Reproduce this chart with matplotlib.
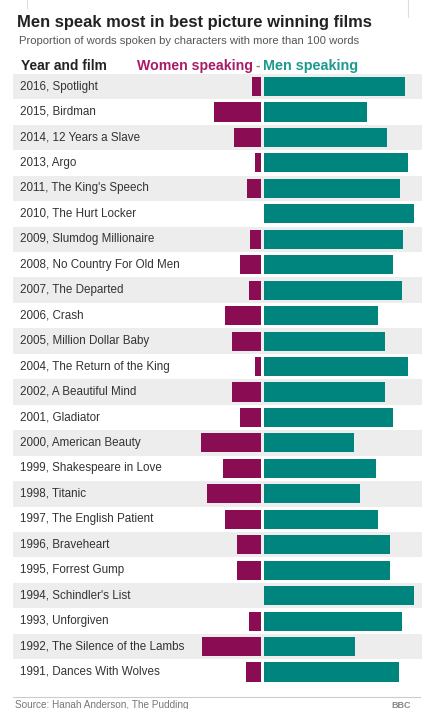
import matplotlib.pyplot as plt
from matplotlib.lines import Line2D

# DATA
films = ["2016, Spotlight", "2015, Birdman", "2014, 12 Years a Slave", "2013, Argo",
         "2011, The King's Speech", "2010, The Hurt Locker", "2009, Slumdog Millionaire",
         "2008, No Country For Old Men", "2007, The Departed", "2006, Crash",
         "2005, Million Dollar Baby", "2004, The Return of the King", "2002, A Beautiful Mind",
         "2001, Gladiator", "2000, American Beauty", "1999, Shakespeare in Love",
         "1998, Titanic", "1997, The English Patient", "1996, Braveheart",
         "1995, Forrest Gump", "1994, Schindler's List", "1993, Unforgiven",
         "1992, The Silence of the Lambs", "1991, Dances With Wolves"]
women = [6, 31, 18, 4, 9, 0, 7, 14, 8, 24, 19, 4, 19, 14, 40, 25, 36, 24, 16, 16, 0, 8, 39, 10]
men = [94, 69, 82, 96, 91, 100, 93, 86, 92, 76, 81, 96, 81, 86, 60, 75, 64, 76, 84, 84, 100, 92, 61, 90]

WOMEN_C = "#8a0c52"
MEN_C = "#00847e"
STRIPE = "#ededed"
TEXT = "#333333"

W, H = 427, 709
plt.rcParams['font.family'] = ['Liberation Sans', 'DejaVu Sans']
fig = plt.figure(figsize=(W / 100, H / 100), dpi=100)
fig.patch.set_facecolor("white")

# bar area in pixels: x 13..422, y 73.8..684.7 (top-down)
x0, x1 = 13, 422
y_top, y_bot = 73.8, 684.7
ax = fig.add_axes([x0 / W, 1 - y_bot / H, (x1 - x0) / W, (y_bot - y_top) / H])
center = 262.5
scale = 1.5  # px per percent
ax.set_xlim((x0 - center) / scale, (x1 - center) / scale)
ax.set_ylim(len(films) - 0.5, -0.5)
ax.axis("off")

gap = 1.0
for i, name in enumerate(films):
    if i % 2 == 0:
        ax.axhspan(i - 0.5, i + 0.5, color=STRIPE, lw=0, zorder=0)
    ax.text(0.017, i, name, transform=ax.get_yaxis_transform(), fontsize=8.4,
            color=TEXT, va="center", ha="left")

ys = list(range(len(films)))
ax.barh(ys, [-w for w in women], left=-gap, height=0.75, color=WOMEN_C, zorder=2)
ax.barh(ys, men, left=gap, height=0.75, color=MEN_C, zorder=2)

# titles
fig.text(17 / W, 1 - 22 / H, "Men speak most in best picture winning films",
         fontsize=11.9, fontweight="bold", color="#222222", va="center", ha="left")
fig.text(19 / W, 1 - 41 / H, "Proportion of words spoken by characters with more than 100 words",
         fontsize=8.1, color="#555555", va="center", ha="left")
fig.text(21 / W, 1 - 66 / H, "Year and film", fontsize=9.9, fontweight="bold",
         color="#222222", va="center", ha="left")
fig.text(253 / W, 1 - 66 / H, "Women speaking", fontsize=10.2, fontweight="bold",
         color="#a81b67", va="center", ha="right")
fig.text(258 / W, 1 - 66 / H, "-", fontsize=10, fontweight="bold",
         color="#888888", va="center", ha="center")
fig.text(263 / W, 1 - 66 / H, "Men speaking", fontsize=10.4, fontweight="bold",
         color="#1c9a8e", va="center", ha="left")

# top card remnants
fig.add_artist(Line2D([27 / W, 27 / W], [1, 1 - 8 / H], color="#dddddd", lw=0.8))
fig.add_artist(Line2D([408 / W, 408 / W], [1, 1 - 17 / H], color="#dddddd", lw=0.8))

# footer
fig.add_artist(Line2D([13 / W, 420 / W], [1 - 697 / H, 1 - 697 / H], color="#cccccc", lw=0.8))
fig.text(15 / W, 1 - 705 / H, "Source: Hanah Anderson, The Pudding", fontsize=7.2,
         color="#777777", va="center", ha="left")
fig.text(411 / W, 1 - 705 / H, "BBC", fontsize=6.5, fontweight="bold",
         color="#888888", va="center", ha="right")

fig.savefig("out.png", dpi=100, facecolor="white")
